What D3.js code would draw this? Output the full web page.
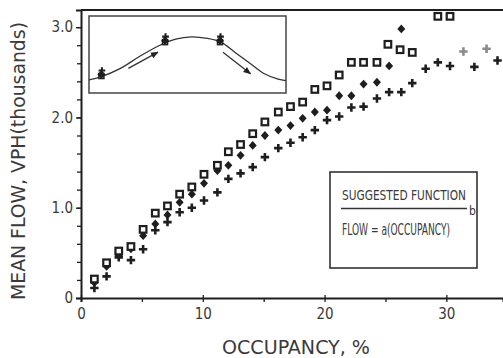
<!DOCTYPE html>
<html>
<head>
<meta charset="utf-8">
<script src="https://cdn.jsdelivr.net/npm/d3@7"></script>
<style>
  body { margin: 0; background: #fff; }
  svg text { font-family: "DejaVu Sans Condensed", "Liberation Sans Narrow", "DejaVu Sans", sans-serif; font-stretch: condensed; fill: #3a3a3a; }
</style>
</head>
<body>
<div id="chart"></div>
<script>
// occupancy (%) vs mean flow (thousands vph), three stations
const sqOcc  = [1.1,2.1,3.1,4.1,5.1,6.1,7.1,8.1,9.1,10.1,11.2,12.1,13.1,14.1,15.1,16.2,17.2,18.2,19.2,20.2,21.2,22.2,23.2,24.3,25.2,26.2,27.2,29.3,30.3];
const sqFlow = [0.21,0.39,0.52,0.57,0.76,0.94,1.02,1.15,1.23,1.37,1.47,1.62,1.70,1.82,1.95,2.06,2.12,2.17,2.31,2.35,2.47,2.61,2.61,2.61,2.81,2.75,2.72,3.12,3.12];

const dmOcc  = [1.1,2.1,3.1,4.1,5.1,6.1,7.1,8.1,9.1,10.1,11.2,12.1,13.1,14.1,15.1,16.2,17.2,18.2,19.2,20.2,21.2,22.2,23.2,24.3,25.3,26.3];
const dmFlow = [0.17,0.35,0.47,0.545,0.69,0.82,0.92,1.06,1.15,1.27,1.41,1.47,1.58,1.69,1.80,1.86,1.91,1.99,2.06,2.08,2.24,2.24,2.37,2.39,2.57,2.98];

const plOcc  = [1.1,2.1,3.1,4.1,5.1,6.1,7.1,8.1,9.1,10.1,11.2,12.1,13.1,14.1,15.1,16.2,17.2,18.2,19.2,20.2,21.2,22.2,23.2,24.3,25.3,26.3,27.2,28.3,29.3,30.3,32.3,34.2];
const plFlow = [0.11,0.24,0.45,0.42,0.54,0.75,0.84,0.95,1.00,1.08,1.17,1.32,1.38,1.45,1.56,1.66,1.72,1.78,1.86,1.97,2.01,2.11,2.12,2.21,2.28,2.28,2.38,2.54,2.61,2.57,2.56,2.63];

// faint (washed out) points on the right
const faintOcc  = [31.4, 33.3];
const faintFlow = [2.73, 2.76];

const yMajor = [0, 1, 2, 3];
const xMajor = [0, 10, 20, 30];

// inset sketch: bell-shaped curve, normalised 0-100 both ways
const insetX = [0,6,16,26,36,44,52,60,67,74,82,89,96,100];
const insetY = [17,21,32,48,62,70,73,71,66,53,38,25,18,16];
const insetPts = [[6.3,24],[38.6,68],[66.5,68]];
const insetArrows = [[[20,32],[35,53]],[[68,53],[82,25]]];

const W = 503, H = 358;
const svg = d3.select("#chart").append("svg")
    .attr("width", W).attr("height", H);

const x = d3.scaleLinear().domain([0, 34.65]).range([81, 503]);
const y = d3.scaleLinear().domain([0, 3.19]).range([298, 10]);

const ink = "#1e1e1e";

// frame: top line
svg.append("line")
    .attr("x1", 81).attr("x2", 503).attr("y1", 10).attr("y2", 10)
    .attr("stroke", ink).attr("stroke-width", 2);

// y axis
const yAx = svg.append("g").attr("transform", "translate(81,0)")
    .call(d3.axisLeft(y).tickValues(yMajor).tickSize(5).tickPadding(3)
        .tickFormat(d => d === 0 ? "0" : d3.format(".1f")(d)));
svg.append("g").attr("transform", "translate(81,0)")
    .call(d3.axisLeft(y).tickValues(d3.range(0.2, 3.19, 0.2)).tickSize(4).tickFormat(""))
    .call(g => g.select(".domain").remove());

// x axis
const xAx = svg.append("g").attr("transform", "translate(0,298)")
    .call(d3.axisBottom(x).tickValues(xMajor).tickSize(4).tickPadding(6));
svg.append("g").attr("transform", "translate(0,298)")
    .call(d3.axisBottom(x).tickValues([5, 15, 25]).tickSize(4).tickFormat(""))
    .call(g => g.select(".domain").remove());

svg.selectAll(".domain").attr("stroke", ink).attr("stroke-width", 2);
svg.selectAll(".tick line").attr("stroke", ink).attr("stroke-width", 1.3);
svg.selectAll(".tick text").attr("font-size", 15).attr("fill", "#3a3a3a")
    .attr("font-family", null);
// x ticks cross the axis
xAx.selectAll(".tick line").attr("y1", -3);

// axis titles
svg.append("text")
    .attr("x", 296).attr("y", 354)
    .attr("text-anchor", "middle").attr("font-size", 20)
    .attr("textLength", 148).attr("lengthAdjust", "spacingAndGlyphs")
    .text("OCCUPANCY, %");
svg.append("text")
    .attr("transform", "translate(25,161) rotate(-90)")
    .attr("text-anchor", "middle").attr("font-size", 20)
    .attr("textLength", 278).attr("lengthAdjust", "spacingAndGlyphs")
    .text("MEAN FLOW, VPH(thousands)");

// markers
const plusPath = "M-1.3,-4.2H1.3V-1.3H4.2V1.3H1.3V4.2H-1.3V1.3H-4.2V-1.3H-1.3Z";
const diamondPath = "M0,-4.4L4,0L0,4.4L-4,0Z";

svg.append("g").selectAll("path").data(plOcc).join("path")
    .attr("transform", (d, i) => `translate(${x(d)},${y(plFlow[i])})`)
    .attr("d", plusPath).attr("fill", ink);

svg.append("g").selectAll("path").data(dmOcc).join("path")
    .attr("transform", (d, i) => `translate(${x(d)},${y(dmFlow[i])})`)
    .attr("d", diamondPath).attr("fill", ink);

svg.append("g").selectAll("rect").data(sqOcc).join("rect")
    .attr("x", d => x(d) - 3.3).attr("y", (d, i) => y(sqFlow[i]) - 3.3)
    .attr("width", 6.6).attr("height", 6.6)
    .attr("fill", "#fff").attr("stroke", ink).attr("stroke-width", 2.2);

svg.append("g").selectAll("path").data(faintOcc).join("path")
    .attr("transform", (d, i) => `translate(${x(d)},${y(faintFlow[i])})`)
    .attr("d", plusPath).attr("fill", "#8a8a8a");

// inset
const ix = d3.scaleLinear().domain([0, 100]).range([89, 286]);
const iy = d3.scaleLinear().domain([0, 100]).range([93, 16]);
const inset = svg.append("g");
inset.append("rect")
    .attr("x", 89).attr("y", 16).attr("width", 197).attr("height", 77)
    .attr("fill", "#fff").attr("stroke", "#444").attr("stroke-width", 1.5);
inset.append("path")
    .datum(insetX.map((d, i) => [d, insetY[i]]))
    .attr("d", d3.line().x(d => ix(d[0])).y(d => iy(d[1])).curve(d3.curveCatmullRom))
    .attr("fill", "none").attr("stroke", "#333").attr("stroke-width", 1.3);

svg.append("defs").append("marker")
    .attr("id", "ah").attr("viewBox", "0 0 10 10")
    .attr("refX", 9).attr("refY", 5)
    .attr("markerWidth", 6).attr("markerHeight", 6)
    .attr("orient", "auto")
  .append("path").attr("d", "M0,1L10,5L0,9Z").attr("fill", "#222");

inset.selectAll(".arr").data(insetArrows).join("line")
    .attr("x1", d => ix(d[0][0])).attr("y1", d => iy(d[0][1]))
    .attr("x2", d => ix(d[1][0])).attr("y2", d => iy(d[1][1]))
    .attr("stroke", "#333").attr("stroke-width", 1.3)
    .attr("marker-end", "url(#ah)");

insetPts.forEach(p => {
    const cx = ix(p[0]), cy = iy(p[1]);
    inset.append("rect").attr("x", cx - 2.5).attr("y", cy - 1).attr("width", 5).attr("height", 5)
        .attr("fill", "#fff").attr("stroke", ink).attr("stroke-width", 1.5);
    inset.append("path").attr("transform", `translate(${cx},${cy})`)
        .attr("d", diamondPath).attr("fill", ink);
    inset.append("path").attr("transform", `translate(${cx + 0.5},${cy - 4}) scale(0.8)`)
        .attr("d", plusPath).attr("fill", ink);
});

// function box
const box = svg.append("g");
box.append("rect")
    .attr("x", 330).attr("y", 172).attr("width", 147).attr("height", 96)
    .attr("fill", "#fff").attr("stroke", "#333").attr("stroke-width", 1.6);
box.append("text").attr("x", 342).attr("y", 200).attr("font-size", 14)
    .attr("textLength", 124).attr("lengthAdjust", "spacingAndGlyphs")
    .text("SUGGESTED FUNCTION");
box.append("line").attr("x1", 341).attr("x2", 467).attr("y1", 208.5).attr("y2", 208.5)
    .attr("stroke", "#333").attr("stroke-width", 1.6);
box.append("text").attr("x", 342).attr("y", 235).attr("font-size", 15)
    .attr("textLength", 108).attr("lengthAdjust", "spacingAndGlyphs")
    .text("FLOW = a(OCCUPANCY)");
box.append("text").attr("x", 469).attr("y", 215).attr("font-size", 12)
    .text("b");
</script>
</body>
</html>
